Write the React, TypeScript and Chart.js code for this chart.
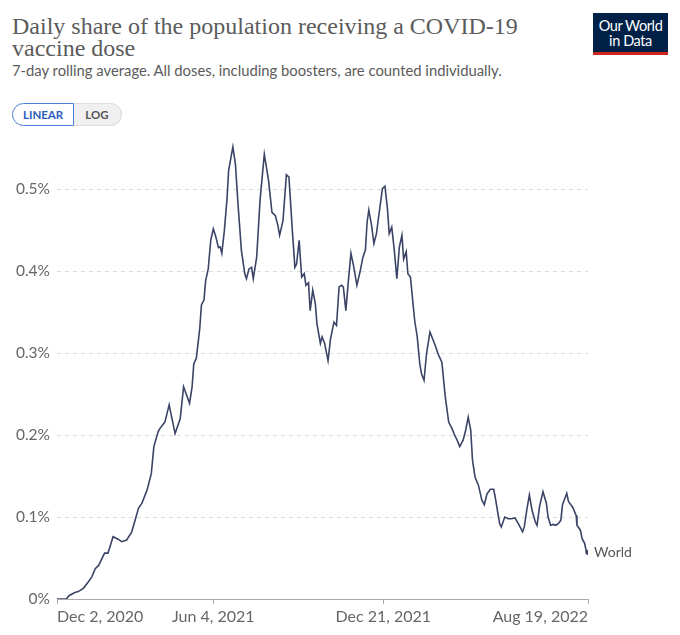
import React, { useEffect, useRef } from "react";
import { Chart, registerables } from "chart.js";

Chart.register(...registerables);

// Series: World, daily share of population receiving a COVID-19 vaccine dose (%)
const seriesName = "World";
// Days since Dec 2, 2020
const dayOffsets = [
  0, 11, 14, 21, 25, 31, 37, 41, 45, 49,
  56, 60, 66, 72, 76, 82, 88, 96, 100, 106,
  111, 114, 119, 121, 127, 132, 139, 145, 149, 156,
  159, 161, 164, 168, 170, 173, 175, 178, 181, 184,
  187, 190, 192, 194, 197, 200, 202, 207, 210, 213,
  217, 221, 223, 226, 229, 231, 235, 239, 244, 249,
  253, 257, 260, 262, 266, 270, 273, 277, 280, 282,
  285, 288, 291, 293, 296, 298, 301, 304, 306, 310,
  312, 315, 319, 322, 326, 329, 332, 335, 337, 340,
  343, 346, 349, 353, 357, 360, 363, 365, 367, 370,
  373, 376, 379, 381, 383, 386, 389, 391, 394, 397,
  400, 403, 406, 408, 411, 413, 416, 419, 421, 424,
  427, 429, 432, 435, 439, 442, 445, 449, 453, 457,
  461, 465, 468, 471, 474, 478, 481, 484, 487, 489,
  492, 496, 500, 503, 506, 510, 514, 516, 521, 523,
  527, 531, 535, 539, 543, 548, 550, 553, 556, 559,
  563, 565, 568, 572, 576, 578, 581, 584, 587, 590,
  593, 595, 600, 602, 607, 611, 612, 616, 618, 621,
  623, 625,
];
const shareValues = [
  0, 0, 0.004, 0.008, 0.009, 0.013, 0.021, 0.027, 0.037, 0.041,
  0.056, 0.056, 0.076, 0.073, 0.07, 0.072, 0.082, 0.111, 0.117, 0.133,
  0.153, 0.186, 0.204, 0.208, 0.216, 0.237, 0.202, 0.22, 0.259, 0.239,
  0.259, 0.287, 0.294, 0.33, 0.359, 0.365, 0.389, 0.403, 0.438, 0.452,
  0.442, 0.429, 0.43, 0.422, 0.45, 0.487, 0.523, 0.552, 0.531, 0.483,
  0.426, 0.397, 0.391, 0.403, 0.405, 0.391, 0.417, 0.487, 0.543, 0.511,
  0.472, 0.468, 0.456, 0.444, 0.462, 0.518, 0.515, 0.45, 0.405, 0.409,
  0.438, 0.393, 0.397, 0.383, 0.386, 0.352, 0.377, 0.361, 0.336, 0.312,
  0.32, 0.312, 0.291, 0.318, 0.338, 0.334, 0.381, 0.383, 0.381, 0.352,
  0.389, 0.422, 0.407, 0.383, 0.401, 0.417, 0.426, 0.46, 0.475, 0.458,
  0.434, 0.446, 0.47, 0.485, 0.501, 0.504, 0.476, 0.446, 0.454, 0.426,
  0.391, 0.43, 0.444, 0.415, 0.424, 0.397, 0.393, 0.361, 0.34, 0.32,
  0.287, 0.275, 0.267, 0.3, 0.326, 0.318, 0.31, 0.298, 0.289, 0.247,
  0.216, 0.208, 0.2, 0.194, 0.186, 0.194, 0.206, 0.222, 0.206, 0.17,
  0.149, 0.139, 0.121, 0.115, 0.128, 0.134, 0.134, 0.123, 0.092, 0.088,
  0.1, 0.098, 0.098, 0.099, 0.092, 0.082, 0.088, 0.109, 0.127, 0.109,
  0.094, 0.09, 0.113, 0.131, 0.117, 0.1, 0.09, 0.091, 0.09, 0.092,
  0.096, 0.115, 0.129, 0.119, 0.112, 0.102, 0.09, 0.084, 0.074, 0.068,
  0.058, 0.057,
];

const xTickDays = [0, 184, 384, 625];
const xTickLabels = ["Dec 2, 2020", "Jun 4, 2021", "Dec 21, 2021", "Aug 19, 2022"];
const yTickValues = [0, 0.1, 0.2, 0.3, 0.4, 0.5];

const LINE_COLOR = "#3b4466";
const TEXT_GRAY = "#666";

const endLabelPlugin = {
  id: "endLabel",
  afterDatasetsDraw(chart: any) {
    const meta = chart.getDatasetMeta(0);
    const pts = meta.data;
    if (!pts || !pts.length) return;
    const last = pts[pts.length - 1];
    const ctx = chart.ctx;
    ctx.save();
    ctx.font = "14px Lato";
    ctx.fillStyle = "#555";
    ctx.textBaseline = "middle";
    ctx.textAlign = "left";
    ctx.fillText(seriesName, last.x + 6, last.y);
    ctx.restore();
  },
};

function LineChart() {
  const ref = useRef<HTMLCanvasElement | null>(null);
  useEffect(() => {
    if (!ref.current) return;
    const points = dayOffsets.map((d, i) => ({ x: d, y: shareValues[i] }));
    const chart = new Chart(ref.current, {
      type: "line",
      data: {
        datasets: [
          {
            label: seriesName,
            data: points,
            borderColor: LINE_COLOR,
            backgroundColor: LINE_COLOR,
            borderWidth: 1.6,
            pointRadius: (c: any) => (c.dataIndex === points.length - 1 ? 1.8 : 0),
            pointHoverRadius: 0,
            tension: 0,
            fill: false,
          },
        ],
      },
      options: {
        animation: false,
        responsive: false,
        devicePixelRatio: 1,
        layout: { padding: { left: 0, right: 92, top: 0, bottom: 0 } },
        plugins: {
          legend: { display: false },
          tooltip: { enabled: false },
          title: { display: false },
        },
        scales: {
          x: {
            type: "linear",
            min: 0,
            max: 625,
            afterBuildTicks: (s: any) => {
              s.ticks = xTickDays.map((v) => ({ value: v }));
            },
            afterFit: (s: any) => {
              s.height = 36;
            },
            ticks: {
              autoSkip: false,
              maxRotation: 0,
              align: "inner",
              padding: 3,
              color: TEXT_GRAY,
              font: { family: "Lato", size: 16 },
              callback: (v: any) => {
                const i = xTickDays.indexOf(Number(v));
                return i >= 0 ? xTickLabels[i] : "";
              },
            },
            grid: {
              display: true,
              drawOnChartArea: false,
              drawTicks: true,
              tickLength: 5,
              color: "#aaa",
            },
            border: { display: true, color: "#aaa", width: 1 },
          },
          y: {
            type: "linear",
            min: 0,
            max: 0.56,
            afterBuildTicks: (s: any) => {
              s.ticks = yTickValues.map((v) => ({ value: v }));
            },
            afterFit: (s: any) => {
              s.width = 57;
            },
            ticks: {
              padding: 7,
              color: TEXT_GRAY,
              font: { family: "Lato", size: 15.5 },
              callback: (v: any) => (Number(v) === 0 ? "0%" : Number(v).toFixed(1) + "%"),
            },
            grid: {
              color: "#dddddd",
              lineWidth: 1,
              drawTicks: false,
            },
            border: { display: false, dash: [4, 4] },
          },
        },
      },
      plugins: [endLabelPlugin],
    } as any);
    return () => chart.destroy();
  }, []);
  return (
    <canvas
      ref={ref}
      width={680}
      height={511}
      style={{ position: "absolute", left: 0, top: 124, width: 680, height: 511 }}
    />
  );
}

export default function App() {
  return (
    <div
      style={{
        position: "absolute",
        left: 0,
        top: 0,
        width: 680,
        height: 635,
        background: "#fff",
        overflow: "hidden",
        fontFamily: "Lato, sans-serif",
      }}
    >
      <div
        style={{
          position: "absolute",
          left: 12,
          top: 15,
          width: 570,
          fontFamily: "'Liberation Serif', serif",
          fontSize: 24,
          lineHeight: "22px",
          color: "#5b5b5b",
        }}
      >
        Daily share of the population receiving a COVID-19 vaccine dose
      </div>
      <div
        style={{
          position: "absolute",
          left: 12,
          top: 62,
          fontSize: 14.8,
          lineHeight: "16px",
          color: "#5b5b5b",
          whiteSpace: "nowrap",
        }}
      >
        7-day rolling average. All doses, including boosters, are counted individually.
      </div>
      <div
        style={{
          position: "absolute",
          left: 593,
          top: 13,
          width: 75,
          height: 42,
          background: "#002147",
          color: "#fff",
          textAlign: "center",
          fontSize: 14.5,
          lineHeight: "15px",
          boxSizing: "border-box",
          paddingTop: 5,
          borderBottom: "3px solid #ce261e",
          letterSpacing: -0.4,
        }}
      >
        Our World
        <br />
        in Data
      </div>
      <div
        style={{
          position: "absolute",
          left: 12,
          top: 103,
          height: 23,
          display: "flex",
          fontSize: 11.5,
          lineHeight: "21px",
        }}
      >
        <div
          style={{
            border: "1px solid #4a7fd8",
            borderRadius: "12px 0 0 12px",
            padding: "0 10px 0 10px",
            color: "#2d5db8",
            fontWeight: 700,
            background: "#fff",
          }}
        >
          LINEAR
        </div>
        <div
          style={{
            border: "1px solid #ddd",
            borderLeft: "none",
            borderRadius: "0 12px 12px 0",
            padding: "0 12px 0 11px",
            color: "#555",
            background: "#f0f0f0",
            fontWeight: 700,
          }}
        >
          LOG
        </div>
      </div>
      <LineChart />
    </div>
  );
}
